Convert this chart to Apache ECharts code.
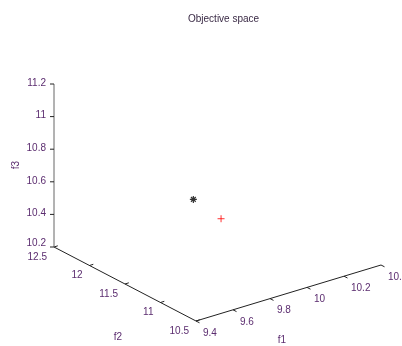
<!DOCTYPE html>
<html>
<head>
<meta charset="utf-8">
<script src="https://cdn.jsdelivr.net/npm/echarts@6/dist/echarts.min.js"></script>
<style>
  html, body { margin: 0; padding: 0; background: #fff; }
  #chart { width: 402px; height: 346px; }
</style>
</head>
<body>
<div id="chart"></div>
<script>
// tick values / labels of the three objective axes
const f1Ticks = [9.4, 9.6, 9.8, 10, 10.2, 10.4];
const f1Labels = ['9.4', '9.6', '9.8', '10', '10.2', '10.4'];
const f2Ticks = [10.5, 11, 11.5, 12, 12.5];
const f2Labels = ['10.5', '11', '11.5', '12', '12.5'];
const f3Ticks = [10.2, 10.4, 10.6, 10.8, 11, 11.2];
const f3Labels = ['10.2', '10.4', '10.6', '10.8', '11', '11.2'];

// the two plotted points (f1, f2, f3)
const starPoint = [9.9, 11.84, 10.47];
const plusPoint = [9.9, 11.45, 10.44];

const FONT = 'Liberation Sans, Arial, sans-serif';
const TEXT = '#5b2c6f';

// screen direction of each full axis in the hidden 2d plane (y up)
const AX = { f1: [185, 56], f2: [-142, 74], f3: [0, 163] };
const lo = [f1Ticks[0], f2Ticks[0], f3Ticks[0]];
const hi = [f1Ticks[f1Ticks.length - 1], f2Ticks[f2Ticks.length - 1], f3Ticks[f3Ticks.length - 1]];

function project(a, b, c) {
  const u = (a - lo[0]) / (hi[0] - lo[0]);
  const v = (b - lo[1]) / (hi[1] - lo[1]);
  const w = (c - lo[2]) / (hi[2] - lo[2]);
  return [
    u * AX.f1[0] + v * AX.f2[0] + w * AX.f3[0],
    u * AX.f1[1] + v * AX.f2[1] + w * AX.f3[1]
  ];
}

// one custom series per 3d axis: line, tick marks and tick labels
function axisSeries(ticks, labels, at, tick, lab, lineColor) {
  const data = ticks.map(at);
  return {
    type: 'custom',
    coordinateSystem: 'cartesian2d',
    silent: true,
    clip: false,
    data: data,
    renderItem(params, api) {
      const i = params.dataIndex;
      const p = api.coord([api.value(0), api.value(1)]);
      const children = [];
      if (i === 0) {
        const a = api.coord(data[0]);
        const b = api.coord(data[data.length - 1]);
        children.push({
          type: 'line',
          shape: { x1: a[0], y1: a[1], x2: b[0], y2: b[1] },
          style: { stroke: lineColor, lineWidth: 1 }
        });
      }
      children.push({
        type: 'line',
        shape: { x1: p[0], y1: p[1], x2: p[0] + tick[0], y2: p[1] + tick[1] },
        style: { stroke: '#222', lineWidth: 1 }
      });
      children.push({
        type: 'text',
        x: p[0] + lab.dx,
        y: p[1] + lab.dy + (i === 0 && lab.firstDy ? lab.firstDy : 0),
        style: {
          text: labels[i],
          align: lab.align,
          verticalAlign: 'middle',
          fill: TEXT,
          font: '10px ' + FONT
        }
      });
      return { type: 'group', children: children };
    }
  };
}

const chart = echarts.init(document.getElementById('chart'));

chart.setOption({
  backgroundColor: '#fff',
  animation: false,
  title: {
    text: 'Objective space',
    left: 183,
    top: 9,
    textStyle: { fontSize: 10, fontWeight: 'normal', color: '#3a2a45', fontFamily: FONT }
  },
  grid: { left: 54, right: 21, top: 84, bottom: 25 },
  xAxis: { type: 'value', min: AX.f2[0], max: AX.f1[0], show: false },
  yAxis: { type: 'value', min: 0, max: AX.f2[1] + AX.f3[1], show: false },
  graphic: [
    { type: 'text', x: 282, y: 340, style: { text: 'f1', align: 'center', verticalAlign: 'middle', fill: TEXT, font: '10px ' + FONT } },
    { type: 'text', x: 118, y: 337, style: { text: 'f2', align: 'center', verticalAlign: 'middle', fill: TEXT, font: '10px ' + FONT } },
    { type: 'text', x: 16, y: 165, rotation: Math.PI / 2, style: { text: 'f3', align: 'center', verticalAlign: 'middle', fill: TEXT, font: '10px ' + FONT } }
  ],
  series: [
    axisSeries(f1Ticks, f1Labels, t => project(t, lo[1], lo[2]),
      [3.5, 1.8], { dx: 7, dy: 12, align: 'left' }, '#222'),
    axisSeries(f2Ticks, f2Labels, t => project(lo[0], t, lo[2]),
      [3.8, -1.2], { dx: -7, dy: 10, align: 'right' }, '#222'),
    axisSeries(f3Ticks, f3Labels, t => project(lo[0], hi[1], t),
      [-4, 0], { dx: -8, dy: -1, firstDy: -3, align: 'right' }, '#666'),
    {
      type: 'scatter',
      data: [project(starPoint[0], starPoint[1], starPoint[2])],
      symbol: 'path://M5 0L5 10M0 5L10 5M1.6 1.6L8.4 8.4M8.4 1.6L1.6 8.4',
      symbolSize: 7,
      itemStyle: { color: 'transparent', borderColor: '#000', borderWidth: 1.2 }
    },
    {
      type: 'scatter',
      data: [project(plusPoint[0], plusPoint[1], plusPoint[2])],
      symbol: 'path://M5 0L5 10M0 5L10 5',
      symbolSize: 7,
      itemStyle: { color: 'transparent', borderColor: '#ff0000', borderWidth: 1 }
    }
  ]
});
</script>
</body>
</html>
